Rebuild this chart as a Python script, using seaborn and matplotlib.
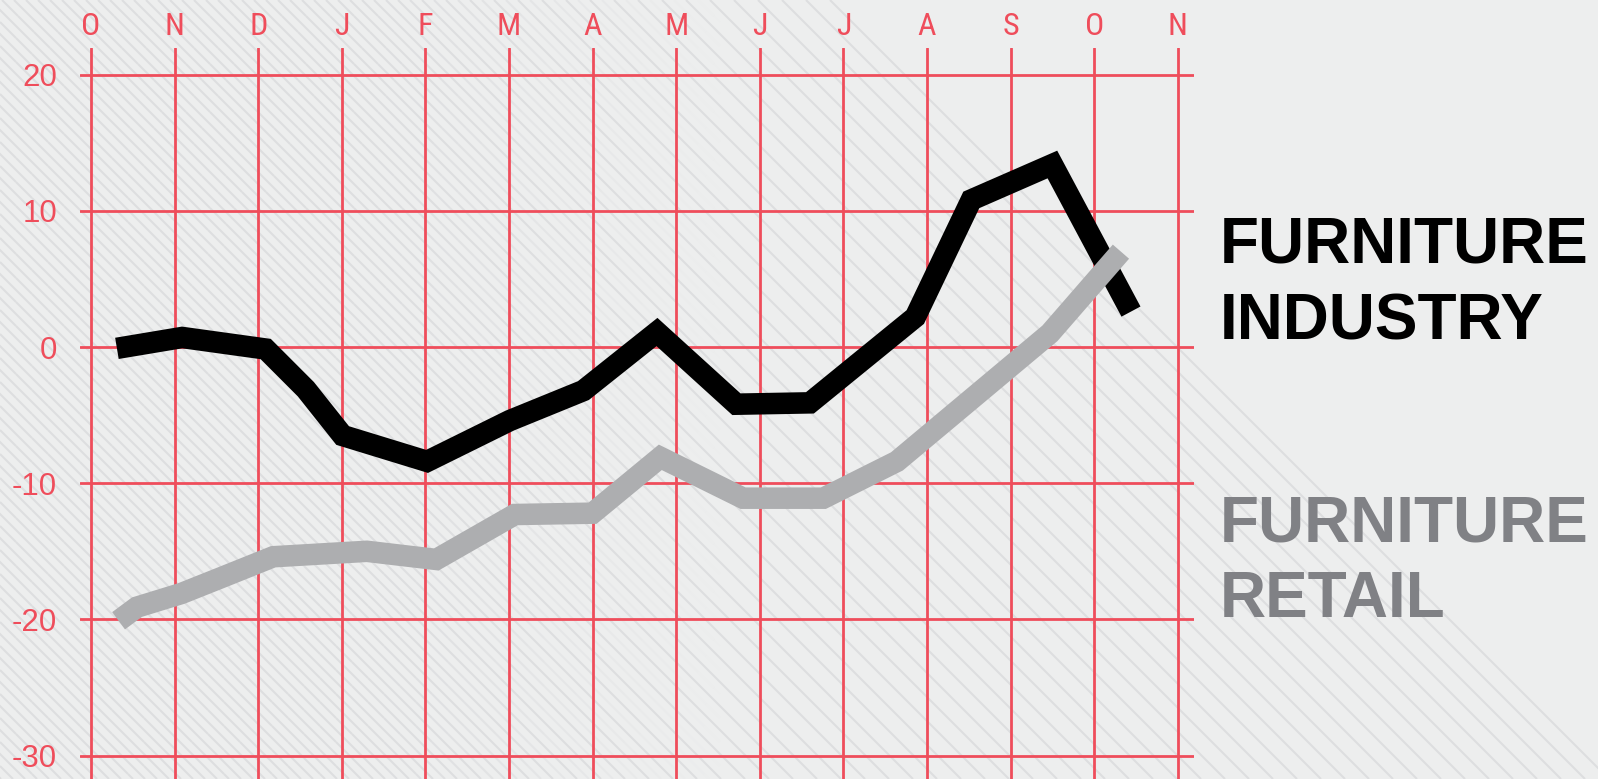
import numpy as np
import pandas as pd
import matplotlib
matplotlib.use("Agg")
import matplotlib.pyplot as plt
from matplotlib import font_manager
from matplotlib.collections import LineCollection
from matplotlib.colors import to_rgba
import seaborn as sns

# ---- data -------------------------------------------------------------
months = ["O", "N", "D", "J", "F", "M", "A", "M", "J", "J", "A", "S", "O", "N"]
y_ticks = [20, 10, 0, -10, -20, -30]

# position in months (0 = first October), value in index points
industry_t = [0.31, 1.09, 2.09, 2.57, 3.01, 4.02, 5.01, 5.89, 6.77, 7.72, 8.60, 9.86, 10.53, 11.50, 12.44]
industry_v = [-0.1, 0.7, -0.15, -3.1, -6.5, -8.4, -5.4, -3.2, 1.1, -4.2, -4.1, 2.2, 10.8, 13.4, 2.6]

retail_t = [0.33, 0.55, 1.08, 1.53, 2.18, 3.30, 4.13, 5.07, 6.00, 6.81, 7.80, 8.76, 9.64, 11.47, 12.32]
retail_v = [-20.1, -19.1, -18.1, -17.0, -15.4, -15.0, -15.6, -12.3, -12.2, -8.1, -11.1, -11.1, -8.4, 1.0, 7.0]

series_labels = [["FURNITURE", "INDUSTRY"], ["FURNITURE", "RETAIL"]]

# ---- style ------------------------------------------------------------
BG = "#EDEEEE"
HATCH = "#DDDEE0"
RED = "#EF4D5B"
INK = "#000000"
GREY_LINE = "#ADAEB0"
GREY_TEXT = "#808185"

sns.set_theme(style="white")
plt.rcParams["font.family"] = ["Liberation Sans", "DejaVu Sans"]

available = {f.name for f in font_manager.fontManager.ttflist}
condensed = "Roboto Condensed" if "Roboto Condensed" in available else "Liberation Sans"

W, H, DPI = 1598, 779, 100
fig = plt.figure(figsize=(W / DPI, H / DPI), dpi=DPI, facecolor=BG)

# background: diagonal hairlines; a second, interleaved set thickens the
# left part and fades out towards the middle
bg = fig.add_axes([0, 0, 1, 1], zorder=0)
bg.set_xlim(0, W)
bg.set_ylim(H, 0)
bg.axis("off")
STEP, C_MAX = 24.0, 830.0
FADE_START, FADE_END, PIECE = 380.0, 720.0, 16.0
sparse, dense, dense_cols = [], [], []
for c in np.arange(C_MAX, -H - STEP, -STEP):
    sparse.append([(c, 0), (c + H, H)])
    cd = c - STEP / 2
    x0, x1 = max(cd, 0.0), min(cd + H, FADE_END)
    xs = np.arange(x0, x1, PIECE)
    for xa in xs:
        xb = min(xa + PIECE, x1)
        a = np.clip((FADE_END - 0.5 * (xa + xb)) / (FADE_END - FADE_START), 0, 1)
        if a <= 0:
            continue
        dense.append([(xa, xa - cd), (xb, xb - cd)])
        dense_cols.append(to_rgba(HATCH, a))
bg.add_collection(LineCollection(sparse, colors=HATCH, linewidths=1.5))
bg.add_collection(LineCollection(dense, colors=dense_cols, linewidths=1.5,
                                 capstyle="butt"))

# main chart area
left_px, right_px, top_px = 80, 1194, 47.7
ax = fig.add_axes([left_px / W, 0, (right_px - left_px) / W, 1 - top_px / H], zorder=1)
ax.set_facecolor("none")

ax.set_xlim((left_px - 91) / 83.6, (right_px - 91) / 83.6)
ax.set_ylim((347 - H) / 13.62, (347 - top_px) / 13.62)

sns.lineplot(x=industry_t, y=industry_v, ax=ax, color=INK, linewidth=15.5,
             sort=False, solid_capstyle="butt", solid_joinstyle="miter", zorder=3)
sns.lineplot(x=retail_t, y=retail_v, ax=ax, color=GREY_LINE, linewidth=15.5,
             sort=False, solid_capstyle="butt", solid_joinstyle="miter", zorder=4)

ax.set_xticks(range(len(months)))
ax.set_xticklabels(months, fontsize=23, color=RED, fontfamily=condensed)
ax.xaxis.tick_top()
ax.set_yticks(y_ticks)
ax.set_yticklabels([str(v) for v in y_ticks], fontsize=22.5, color=RED)
ax.tick_params(axis="x", length=0, pad=5)
ax.tick_params(axis="y", length=0, pad=16.5)
ax.grid(True, color=RED, linewidth=2.0)
ax.set_axisbelow(True)
for s in ax.spines.values():
    s.set_visible(False)
ax.set_xlabel("")
ax.set_ylabel("")

# direct labels for the two series
label_colors = [INK, GREY_TEXT]
baselines = [(262.7, 340.0), (541.0, 616.7)]
for lines, col, bls in zip(series_labels, label_colors, baselines):
    for txt, yb in zip(lines, bls):
        fig.text(1220 / W, 1 - yb / H, txt, fontsize=46, fontweight="bold",
                 color=col, ha="left", va="baseline")

fig.savefig("out.png", dpi=DPI, facecolor=BG)
